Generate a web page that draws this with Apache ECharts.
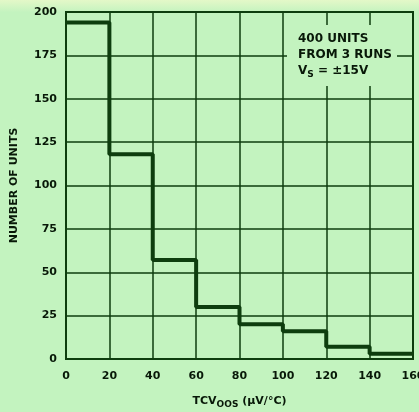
<!DOCTYPE html>
<html>
<head>
<meta charset="utf-8">
<script src="https://cdn.jsdelivr.net/npm/echarts@6/dist/echarts.min.js"></script>
<style>
html,body{margin:0;padding:0;background:#c3f3bf;}
#chart{width:419px;height:412px;}
</style>
</head>
<body>
<div id="chart"></div>
<script>
// Histogram bin edges (µV/°C) and counts
var binStarts = [0, 20, 40, 60, 80, 100, 120, 140];
var binEnd = 160;
var counts = [194, 118, 57, 30, 20, 16, 7, 3];
var xTicks = [0, 20, 40, 60, 80, 100, 120, 140, 160];
var yTicks = [0, 25, 50, 75, 100, 125, 150, 175, 200];

var lineColor = '#0e3d0e';
var textColor = '#081808';
var bg = '#c3f3bf';
var font = 'DejaVu Sans';

var stepData = binStarts.map(function (x, i) { return [x, counts[i]]; });
stepData.push([binEnd, counts[counts.length - 1]]);

var chart = echarts.init(document.getElementById('chart'), null, {renderer: 'canvas'});
chart.setOption({
  backgroundColor: {
    type: 'linear', x: 0, y: 0, x2: 0, y2: 1,
    colorStops: [{offset: 0, color: '#e4f8c8'}, {offset: 0.03, color: bg}, {offset: 1, color: bg}]
  },
  animation: false,
  grid: {left: 66, right: 6, top: 12, bottom: 53, containLabel: false, outerBoundsMode: 'none',
    show: true, borderColor: lineColor, borderWidth: 2, backgroundColor: 'transparent'},
  xAxis: {
    type: 'value', min: 0, max: 160, interval: 20,
    axisLine: {show: true, lineStyle: {color: lineColor, width: 2}},
    axisTick: {show: false},
    splitLine: {show: true, lineStyle: {color: lineColor, width: 1.5}},
    axisLabel: {color: textColor, fontFamily: font, fontWeight: 'bold', fontSize: 11, margin: 12,
      hideOverlap: false,
      formatter: function (v) { return xTicks.indexOf(v) >= 0 ? String(v) : ''; }},
    name: '{m|TCV}{s|OOS}{m| (µV/°C)}',
    nameLocation: 'middle', nameGap: 34,
    nameTextStyle: {
      rich: {
        m: {fontFamily: font, fontWeight: 'bold', fontSize: 11, color: textColor},
        s: {fontFamily: font, fontWeight: 'bold', fontSize: 9, color: textColor, padding: [7, 0, 0, 0]}
      }
    }
  },
  yAxis: {
    type: 'value', min: 0, max: 200, interval: 25,
    axisLine: {show: true, lineStyle: {color: lineColor, width: 2}},
    axisTick: {show: false},
    splitLine: {show: true, lineStyle: {color: lineColor, width: 1.5}},
    axisLabel: {color: textColor, fontFamily: font, fontWeight: 'bold', fontSize: 11, margin: 9,
      formatter: function (v) { return yTicks.indexOf(v) >= 0 ? String(v) : ''; }},
    name: 'NUMBER OF UNITS',
    nameLocation: 'middle', nameGap: 46,
    nameTextStyle: {fontFamily: font, fontWeight: 'bold', fontSize: 11, color: textColor}
  },
  series: [{
    type: 'line',
    step: 'end',
    data: stepData,
    symbol: 'none',
    lineStyle: {color: lineColor, width: 4},
    z: 5
  }],
  graphic: [
    {type: 'rect', shape: {x: 287, y: 25, width: 110, height: 61}, style: {fill: bg}, z: 10},
    {type: 'text', left: 298, top: 33, z: 11,
      style: {text: '400 UNITS', font: 'bold 12px "DejaVu Sans"', fill: textColor}},
    {type: 'text', left: 298, top: 49, z: 11,
      style: {text: 'FROM 3 RUNS', font: 'bold 12px "DejaVu Sans"', fill: textColor}},
    {type: 'text', left: 298, top: 65, z: 11,
      style: {text: '{m|V}{s|S}{m| = ±15V}',
        rich: {
          m: {fontFamily: font, fontWeight: 'bold', fontSize: 12, fill: textColor, color: textColor},
          s: {fontFamily: font, fontWeight: 'bold', fontSize: 9, fill: textColor, color: textColor, padding: [7, 0, 0, 0]}
        }}}
  ]
});
</script>
</body>
</html>
